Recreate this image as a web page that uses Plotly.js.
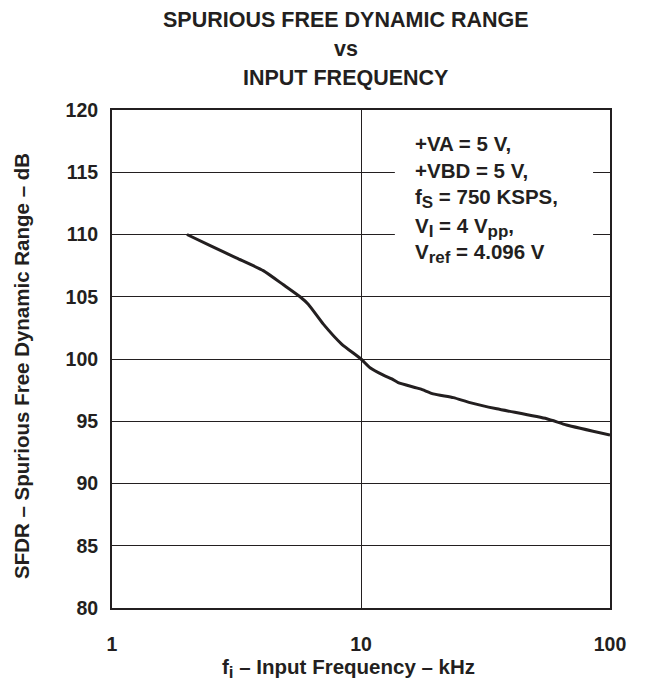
<!DOCTYPE html>
<html>
<head>
<meta charset="utf-8">
<script src="https://cdn.plot.ly/plotly-3.0.1.min.js"></script>
<style>html,body{margin:0;padding:0;background:#fff;}#chart{width:655px;height:683px;}</style>
</head>
<body>
<div id="chart"></div>
<script>
const freqKHz = [2, 2.48, 3.17, 4.05, 4.88, 5.69, 6.14, 7.06, 8.36, 10, 10.87, 12.3, 13.3, 14.1, 17.3, 19.5, 23.5, 27.4, 35.1, 55.7, 66.9, 100];
const sfdrDB = [110, 109.1, 108.1, 107.1, 105.96, 105.0, 104.4, 102.8, 101.2, 100, 99.3, 98.7, 98.4, 98.1, 97.6, 97.2, 96.9, 96.5, 96.0, 95.2, 94.7, 93.9];
const xTicks = [1, 10, 100];
const xTickText = ['1', '10', '100'];
const yTicks = [80, 85, 90, 95, 100, 105, 110, 115, 120];
const titleLines = ['SPURIOUS FREE DYNAMIC RANGE', 'vs', 'INPUT FREQUENCY'];
const S = (t) => '<sub><span style="font-size:17px">' + t + '</span></sub>';
const condLines = ['+VA = 5 V,', '+VBD = 5 V,', 'f' + S('S') + ' = 750 KSPS,', 'V' + S('I') + ' = 4 V' + S('pp') + ',', 'V' + S('ref') + ' = 4.096 V'];

const F = 'Liberation Sans, Arial, Helvetica, sans-serif';
const C = '#231f20';
const titleY = [1.181, 1.1225, 1.064];
const condY = [0.932, 0.878, 0.822, 0.764, 0.712];

const annotations = [];
titleLines.forEach((t, i) => annotations.push({
  text: t, xref: 'paper', yref: 'paper', x: 0.469, y: titleY[i],
  xanchor: 'center', yanchor: 'middle', showarrow: false,
  font: {family: F, size: 21.5, color: C, weight: 700}
}));
condLines.forEach((t, i) => annotations.push({
  text: t, xref: 'paper', yref: 'paper', x: 0.604, y: condY[i],
  xanchor: 'left', yanchor: 'middle', showarrow: false,
  font: {family: F, size: 20.5, color: C, weight: 700}
}));
annotations.push({
  text: 'SFDR \u2013 Spurious Free Dynamic Range \u2013 dB', xref: 'paper', yref: 'paper',
  x: -0.1807, y: 0.486, textangle: -90, xanchor: 'center', yanchor: 'middle', showarrow: false,
  font: {family: F, size: 20.5, color: C, weight: 700}
});
annotations.push({
  text: 'f' + S('i') + ' \u2013 Input Frequency \u2013 kHz', xref: 'paper', yref: 'paper',
  x: 0.474, y: -0.122, xanchor: 'center', yanchor: 'middle', showarrow: false,
  font: {family: F, size: 20.5, color: C, weight: 700}
});

const trace = {
  x: freqKHz, y: sfdrDB, type: 'scatter', mode: 'lines',
  line: {color: C, width: 3, shape: 'spline', smoothing: 0.5},
  hoverinfo: 'skip'
};

const layout = {
  width: 655, height: 683,
  margin: {l: 112, r: 45, t: 110, b: 75, pad: 0},
  paper_bgcolor: '#fff', plot_bgcolor: '#fff',
  showlegend: false,
  xaxis: {
    type: 'log', range: [0, 2], tickvals: xTicks, ticktext: xTickText,
    showgrid: true, gridcolor: C, gridwidth: 1,
    showline: true, linecolor: C, linewidth: 2, mirror: true,
    ticks: '', ticklabelstandoff: 18,
    tickfont: {family: F, size: 19.5, color: C, weight: 700},
    zeroline: false, fixedrange: true
  },
  yaxis: {
    range: [80, 120], tickvals: yTicks,
    showgrid: true, gridcolor: C, gridwidth: 1,
    showline: true, linecolor: C, linewidth: 2, mirror: true,
    ticks: '', ticklabelstandoff: 8,
    tickfont: {family: F, size: 19.5, color: C, weight: 700},
    zeroline: false, fixedrange: true
  },
  shapes: [{
    type: 'rect', xref: 'paper', yref: 'paper', x0: 0.568, x1: 0.966, y0: 0.695, y1: 0.964,
    fillcolor: '#fff', line: {width: 0}, layer: 'above'
  }],
  annotations: annotations
};

Plotly.newPlot('chart', [trace], layout, {displayModeBar: false, staticPlot: true});
</script>
</body>
</html>
